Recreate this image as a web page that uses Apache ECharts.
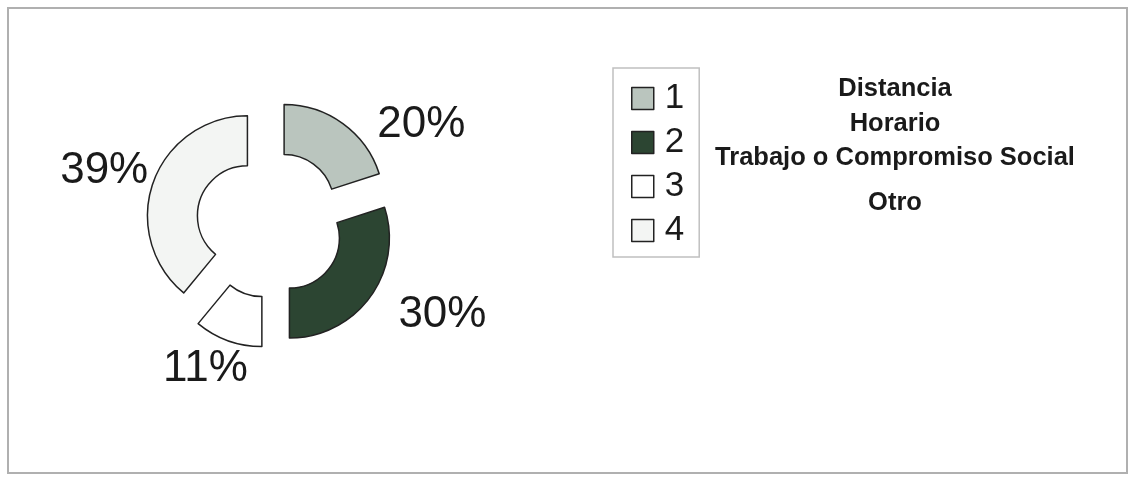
<!DOCTYPE html>
<html>
<head>
<meta charset="utf-8">
<script src="https://cdn.jsdelivr.net/npm/echarts@6/dist/echarts.min.js"></script>
<style>
html,body{margin:0;padding:0;background:#fff;}
#chart{width:1134px;height:478px;}
</style>
</head>
<body>
<div id="chart"></div>
<script>
// Data
var categories = ['1', '2', '3', '4'];
var descriptions = ['Distancia', 'Horario', 'Trabajo o Compromiso Social', 'Otro'];
var percents = [20, 30, 11, 39];

// Styles (kept separate from the data)
var sliceColors = ['#bac5be', '#2c4532', '#ffffff', '#f3f5f3'];
var labelLens = [[-1, 30], [31, -2], [30, -35], [32, -30]];
var descY = [89, 124, 158, 203];

var chart = echarts.init(document.getElementById('chart'), null, {renderer: 'canvas'});

var pieData = percents.map(function (v, i) {
  return {
    name: categories[i],
    value: v,
    selected: true,
    itemStyle: {color: sliceColors[i]},
    labelLine: {show: false, length: labelLens[i][0], length2: labelLens[i][1]}
  };
});

var graphics = [{
  type: 'rect',
  shape: {x: 8, y: 8, width: 1119, height: 465},
  style: {fill: 'none', stroke: '#b0b0b0', lineWidth: 2},
  silent: true
}];
descriptions.forEach(function (d, i) {
  graphics.push({
    type: 'text',
    x: 895,
    y: descY[i],
    style: {
      text: d,
      fill: '#1a1a1a',
      font: 'bold 25.5px "Liberation Sans", Arial, sans-serif',
      textAlign: 'center',
      textVerticalAlign: 'middle'
    },
    silent: true
  });
});

chart.setOption({
  animation: false,
  backgroundColor: '#ffffff',
  legend: {
    orient: 'vertical',
    left: 613,
    top: 68,
    padding: [13, 15, 9, 18],
    itemWidth: 22,
    itemHeight: 22,
    itemGap: 9,
    borderColor: '#c0c0c0',
    borderWidth: 1.5,
    icon: 'rect',
    selectedMode: false,
    data: categories,
    itemStyle: {borderColor: '#222', borderWidth: 1.5},
    textStyle: {
      fontFamily: '"Liberation Sans", Arial, sans-serif',
      fontSize: 35,
      color: '#1a1a1a',
      padding: [0, 0, 0, 6]
    }
  },
  graphic: graphics,
  series: [{
    type: 'pie',
    center: [270, 224],
    radius: [50, 100],
    startAngle: 90,
    clockwise: true,
    selectedMode: 'multiple',
    selectedOffset: 24,
    avoidLabelOverlap: false,
    silent: true,
    itemStyle: {borderColor: '#222', borderWidth: 1.5},
    select: {itemStyle: {borderColor: '#222', borderWidth: 1.5}},
    label: {
      show: true,
      position: 'outside',
      alignTo: 'none',
      formatter: '{c}%',
      fontFamily: '"Liberation Sans", Arial, sans-serif',
      fontSize: 44,
      color: '#1a1a1a'
    },
    labelLine: {show: false},
    data: pieData
  }]
});
</script>
</body>
</html>
